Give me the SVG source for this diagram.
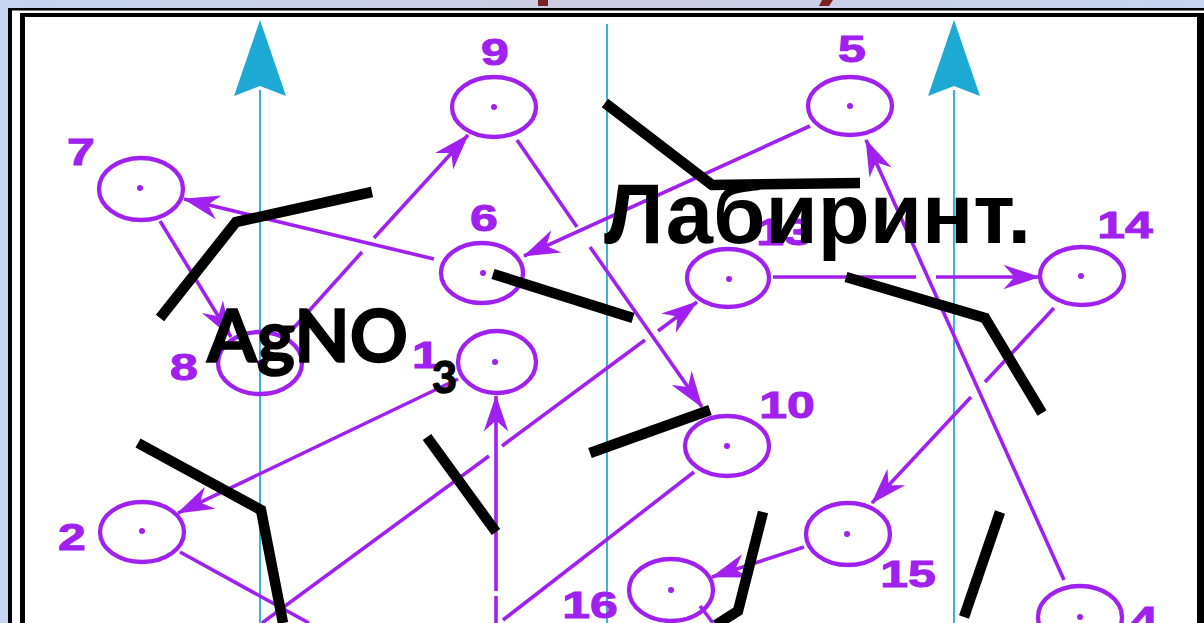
<svg xmlns="http://www.w3.org/2000/svg" width="1204" height="623" viewBox="0 0 1204 623">
<defs>
<linearGradient id="bg" x1="0" y1="0" x2="1" y2="0">
<stop offset="0" stop-color="#c6d6f0"/>
<stop offset="0.5" stop-color="#cccbe2"/>
<stop offset="1" stop-color="#c6d6f0"/>
</linearGradient>
<marker id="ah" markerUnits="userSpaceOnUse" markerWidth="40" markerHeight="30" viewBox="-34 -12 36 24" refX="0" refY="0" orient="auto">
<path d="M1,0 L-32,-11 L-22,0 L-32,11 Z" fill="#a020f0"/>
</marker>
</defs>
<style>
.node ellipse{fill:none;stroke:#a020f0;stroke-width:4.3}
.node circle{fill:#a020f0}
.node text{font-family:"Liberation Sans",Arial,sans-serif;font-weight:bold;font-size:37px;fill:#a020f0;stroke:#a020f0;stroke-width:1;text-anchor:middle}
.c line{stroke:#a020f0;stroke-width:3.6;fill:none}
.c .a{marker-end:url(#ah)}
.cy{stroke:#3cb2d6;stroke-width:2}
.wall{fill:none;stroke:#000;stroke-width:10.5;stroke-linejoin:miter}
.big{font-family:"Liberation Sans",Arial,sans-serif;font-weight:bold;fill:#000}
.chem{font-family:Lato,"Open Sans",sans-serif;font-weight:bold;fill:#000;stroke:#000;stroke-width:1.6}
</style>
<rect x="0" y="0" width="1204" height="623" fill="url(#bg)"/>
<rect x="538" y="0" width="10" height="6" fill="#7a2222"/>
<polygon points="822,0 833,0 829,6 819,6" fill="#7a2222"/>
<rect x="8" y="8" width="1196" height="615" fill="#ffffff"/>
<rect x="8" y="8" width="4" height="615" fill="#000"/>
<rect x="8" y="8" width="1196" height="2.5" fill="#000"/>
<rect x="20" y="13" width="5" height="610" fill="#000"/>
<rect x="20" y="13" width="1184" height="4" fill="#000"/>
<rect x="1197" y="13" width="7" height="610" fill="#000"/>
<g id="axes">
<line class="cy" x1="260" y1="90" x2="260" y2="623"/>
<line class="cy" x1="954" y1="90" x2="954" y2="623"/>
<line class="cy" x1="607" y1="24" x2="607" y2="623"/>
<polygon points="234,96 260,20 286,96 260,86" fill="#1ea8d4"/>
<polygon points="928,96 954,20 980,96 954,86" fill="#1ea8d4"/>
</g>
<g id="connectors" class="c">
<line class="a" x1="434" y1="259" x2="184" y2="199"/>
<line class="a" x1="160" y1="221" x2="231" y2="337"/>
<line x1="291" y1="331" x2="362" y2="252"/>
<line class="a" x1="374" y1="238" x2="468" y2="135"/>
<line x1="517" y1="140" x2="577" y2="227"/>
<line class="a" x1="590" y1="247" x2="702" y2="407"/>
<line class="a" x1="810" y1="126" x2="524" y2="256"/>
<line x1="773" y1="277" x2="916" y2="277"/>
<line class="a" x1="936" y1="277" x2="1039" y2="277"/>
<line class="a" x1="1064" y1="580" x2="866" y2="140"/>
<line x1="1054" y1="308" x2="985" y2="382"/>
<line class="a" x1="971" y1="397" x2="872" y2="503"/>
<line class="a" x1="458" y1="379" x2="178" y2="513"/>
<line x1="496" y1="623" x2="496" y2="596"/>
<line class="a" x1="496" y1="591" x2="496" y2="396"/>
<line x1="262" y1="623" x2="489" y2="456"/>
<line x1="502" y1="446" x2="645" y2="340"/>
<line class="a" x1="658" y1="331" x2="697" y2="302"/>
<line x1="180" y1="552" x2="309" y2="623"/>
<line x1="694" y1="472" x2="503" y2="620"/>
<line class="a" x1="804" y1="547" x2="712" y2="577"/>
<line x1="700" y1="606" x2="713" y2="623"/>
</g>
<g id="n9" class="node"><ellipse cx="494" cy="107" rx="42" ry="30"/><circle cx="494" cy="107" r="3"/><text transform="translate(495,65) scale(1.35,1)">9</text></g>
<g id="n5" class="node"><ellipse cx="850" cy="106" rx="42" ry="29"/><circle cx="850" cy="106" r="3"/><text transform="translate(852,62) scale(1.35,1)">5</text></g>
<g id="n7" class="node"><ellipse cx="141" cy="189" rx="42" ry="31"/><circle cx="140" cy="188" r="3"/><text transform="translate(81,165) scale(1.35,1)">7</text></g>
<g id="n6" class="node"><ellipse cx="482" cy="273" rx="41" ry="30"/><circle cx="483" cy="273" r="3"/><text transform="translate(484,231) scale(1.35,1)">6</text></g>
<g id="n13" class="node"><ellipse cx="728" cy="278" rx="41" ry="29"/><circle cx="729" cy="279" r="3"/><text transform="translate(784,245) scale(1.35,1)">13</text></g>
<g id="n14" class="node"><ellipse cx="1082" cy="276" rx="42" ry="29"/><circle cx="1081" cy="276" r="3"/><text transform="translate(1125,238) scale(1.35,1)">14</text></g>
<g id="n8" class="node"><ellipse cx="260" cy="363" rx="42" ry="31"/><circle cx="260" cy="363" r="3"/><text transform="translate(184,380) scale(1.35,1)">8</text></g>
<g id="n1" class="node"><ellipse cx="497" cy="362" rx="39" ry="31"/><circle cx="495" cy="362" r="3"/><text transform="translate(426,368) scale(1.35,1)">1</text></g>
<g id="n10" class="node"><ellipse cx="727" cy="446" rx="42" ry="30"/><circle cx="727" cy="446" r="3"/><text transform="translate(787,418) scale(1.35,1)">10</text></g>
<g id="n2" class="node"><ellipse cx="142" cy="532" rx="42" ry="30"/><circle cx="142" cy="531" r="3"/><text transform="translate(72,550) scale(1.35,1)">2</text></g>
<g id="n15" class="node"><ellipse cx="848" cy="534" rx="42" ry="31"/><circle cx="847" cy="534" r="3"/><text transform="translate(908,587) scale(1.35,1)">15</text></g>
<g id="n16" class="node"><ellipse cx="671" cy="590" rx="42" ry="31"/><circle cx="671" cy="590" r="3"/><text transform="translate(590,618) scale(1.35,1)">16</text></g>
<g id="n4" class="node"><ellipse cx="1080" cy="617" rx="42" ry="31"/><circle cx="1080" cy="617" r="3"/><text transform="translate(1144,633) scale(1.35,1)">4</text></g>
<g id="walls">
<polyline class="wall" points="160,318 236,222 372,192"/>
<polyline class="wall" points="605,103 712,185 860,183"/>
<polyline class="wall" points="493,274 633,318"/>
<polyline class="wall" points="846,277 985,318 1042,413"/>
<polyline class="wall" points="138,443 261,510 283,623"/>
<polyline class="wall" points="427,437 496,532"/>
<polyline class="wall" points="590,453 710,410"/>
<polyline class="wall" points="763,512 738,611 716,625"/>
<polyline class="wall" points="1000,512 964,617"/>
</g>
<text class="big" x="604" y="243" font-size="85">Лабиринт.</text>
<text class="chem" x="207" y="362" font-size="72">AgNO</text>
<text class="chem" x="432" y="393" font-size="43">3</text>
</svg>
